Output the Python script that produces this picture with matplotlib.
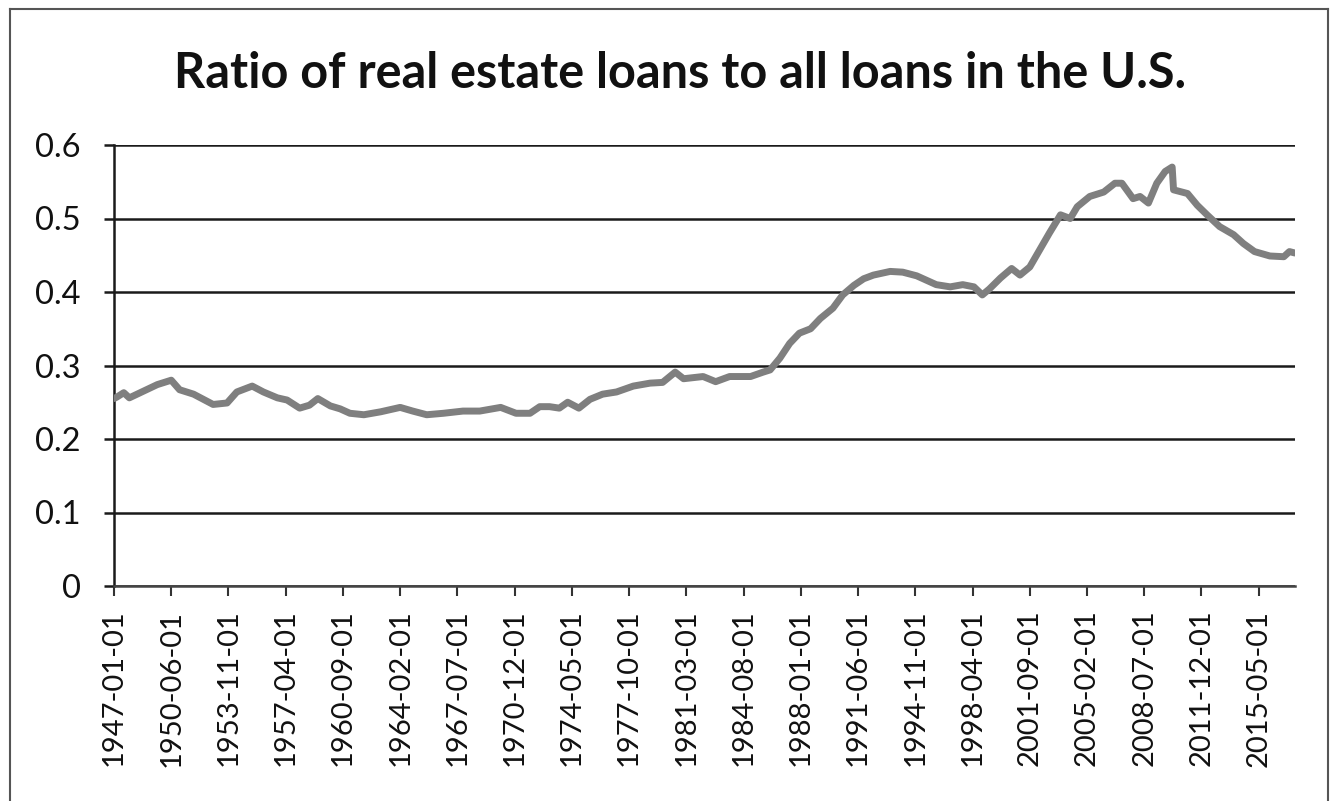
import matplotlib
matplotlib.use("Agg")
import matplotlib.pyplot as plt
from matplotlib.lines import Line2D

plt.rcParams['font.family'] = ['Lato', 'DejaVu Sans']

# Monthly ratio series (sampled observations, "YYYY-MM")
dates = [
    "1947-01", "1947-03", "1947-08", "1947-12", "1948-10", "1949-08", "1950-06",
    "1950-12", "1951-10", "1952-12", "1953-10", "1954-05", "1955-04", "1955-12",
    "1956-10", "1957-05", "1958-02", "1958-09", "1959-03", "1959-12", "1960-07",
    "1961-02", "1961-12", "1962-12", "1964-02", "1964-11", "1965-09", "1966-09",
    "1967-11", "1968-11", "1970-02", "1971-01", "1971-11", "1972-06", "1973-01",
    "1973-08", "1974-02", "1974-10", "1975-06", "1976-03", "1977-01", "1978-01",
    "1979-01", "1979-10", "1980-07", "1981-01", "1982-03", "1982-12", "1983-10",
    "1985-01", "1985-10", "1986-03", "1986-10", "1987-05", "1987-12", "1988-08",
    "1989-03", "1989-12", "1990-07", "1991-03", "1991-10", "1992-05", "1993-05",
    "1994-02", "1994-12", "1996-02", "1996-12", "1997-09", "1998-05", "1998-11",
    "1999-04", "1999-12", "2000-08", "2001-02", "2001-09", "2002-04", "2002-11",
    "2003-07", "2004-02", "2004-07", "2005-04", "2006-02", "2006-10", "2007-03",
    "2007-11", "2008-04", "2008-10", "2009-04", "2009-10", "2010-03", "2010-04",
    "2011-02", "2011-09", "2012-04", "2013-01", "2013-11", "2014-06", "2015-02",
    "2016-01", "2016-11", "2017-03", "2017-07",
]
ratio = [
    0.255, 0.257, 0.263, 0.256, 0.265, 0.274, 0.280,
    0.267, 0.261, 0.247, 0.249, 0.264, 0.272, 0.264,
    0.256, 0.253, 0.242, 0.246, 0.255, 0.245, 0.241,
    0.235, 0.233, 0.237, 0.243, 0.238, 0.233, 0.235,
    0.238, 0.238, 0.243, 0.235, 0.235, 0.244, 0.244,
    0.242, 0.250, 0.242, 0.254, 0.261, 0.264, 0.272,
    0.276, 0.277, 0.291, 0.282, 0.285, 0.278, 0.285,
    0.285, 0.291, 0.294, 0.310, 0.330, 0.344, 0.350,
    0.364, 0.378, 0.396, 0.409, 0.418, 0.423, 0.428,
    0.427, 0.422, 0.410, 0.407, 0.410, 0.407, 0.396,
    0.404, 0.419, 0.432, 0.423, 0.434, 0.457, 0.480,
    0.505, 0.500, 0.516, 0.530, 0.536, 0.548, 0.548,
    0.527, 0.530, 0.521, 0.548, 0.564, 0.570, 0.539,
    0.534, 0.518, 0.505, 0.489, 0.478, 0.466, 0.455,
    0.449, 0.448, 0.455, 0.453,
]

# Category labels shown every 41 months, starting at 1947-01
tick_labels = [
    "1947-01-01", "1950-06-01", "1953-11-01", "1957-04-01", "1960-09-01",
    "1964-02-01", "1967-07-01", "1970-12-01", "1974-05-01", "1977-10-01",
    "1981-03-01", "1984-08-01", "1988-01-01", "1991-06-01", "1994-11-01",
    "1998-04-01", "2001-09-01", "2005-02-01", "2008-07-01", "2011-12-01",
    "2015-05-01",
]
y_ticks = [0, 0.1, 0.2, 0.3, 0.4, 0.5, 0.6]
y_labels = ["0", "0.1", "0.2", "0.3", "0.4", "0.5", "0.6"]
title = "Ratio of real estate loans to all loans in the U.S."


def month_index(s):
    y, m = s.split("-")[:2]
    return (int(y) - 1947) * 12 + int(m) - 1


x = [month_index(d) for d in dates]
tick_pos = [month_index(t) for t in tick_labels]
n_months = month_index("2017-07")

W, H = 1331, 801
fig = plt.figure(figsize=(W / 100, H / 100), dpi=100)
fig.patch.set_facecolor("white")

# chart-area border
for (x0, y0, x1, y1) in [(10, 9, 1328, 9), (10, 9, 10, 801), (1328, 9, 1328, 801)]:
    fig.add_artist(Line2D([x0 / W, x1 / W], [1 - y0 / H, 1 - y1 / H],
                          transform=fig.transFigure, color="#555555", lw=1.5))

left, right, top, bottom = 114, 1295, 145, 586
ax = fig.add_axes([left / W, 1 - bottom / H, (right - left) / W, (bottom - top) / H])

ax.plot(x, ratio, color="#7f7f7f", lw=5.0, solid_joinstyle="round",
        solid_capstyle="round", zorder=3)

ax.set_xlim(0, n_months)
ax.set_ylim(0, 0.6)

ax.set_yticks(y_ticks)
ax.set_yticklabels(y_labels)
ax.set_xticks(tick_pos)
ax.set_xticklabels(tick_labels, rotation=90, va="top", ha="center")

ax.grid(axis="y", color="#1a1a1a", lw=1.8, zorder=1)
ax.set_axisbelow(True)

for s in ["top", "right"]:
    ax.spines[s].set_visible(False)
ax.spines["left"].set_color("#1a1a1a")
ax.spines["left"].set_linewidth(1.8)
ax.spines["bottom"].set_color("#444444")
ax.spines["bottom"].set_linewidth(1.8)

ax.tick_params(axis="y", direction="out", length=7.5, width=1.8, color="#1a1a1a",
               labelsize=23.5, pad=16.5)
ax.tick_params(axis="x", direction="out", length=7, width=1.5, color="#333333",
               labelsize=21, pad=10)
for lbl in ax.get_yticklabels() + ax.get_xticklabels():
    lbl.set_color("#111111")

fig.text(680 / W, 1 - 73 / H, title, ha="center", va="center",
         fontsize=35, fontweight="bold", color="#111111")

fig.savefig("out.png", dpi=100, facecolor="white")
